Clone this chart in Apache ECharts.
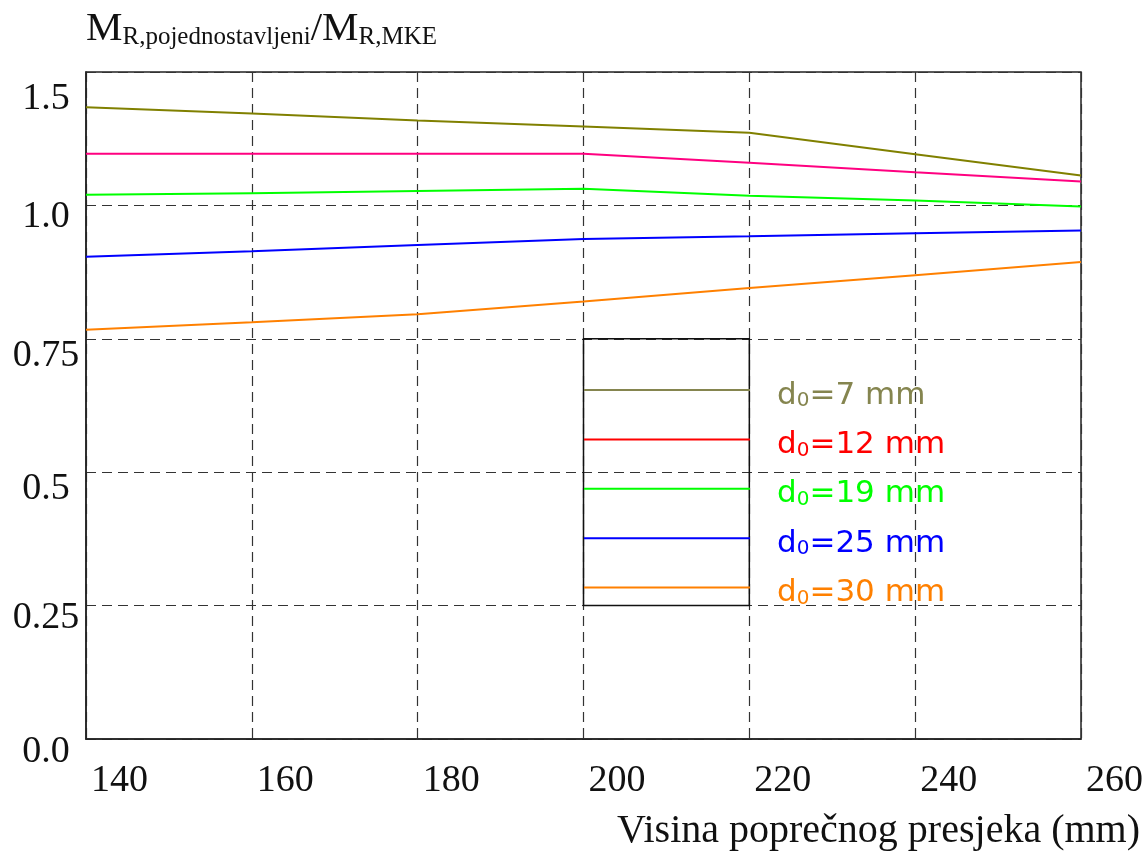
<!DOCTYPE html>
<html><head><meta charset="utf-8">
<script src="https://cdn.jsdelivr.net/npm/echarts@6/dist/echarts.min.js"></script>
<style>html,body{margin:0;padding:0;background:#fff}#c{width:1146px;height:851px}</style>
</head><body><div id="c"></div>
<script>
// ---- data ----
const xValues = [140, 160, 180, 200, 220, 240, 260];
const seriesNames = ['d0=7 mm', 'd0=12 mm', 'd0=19 mm', 'd0=25 mm', 'd0=30 mm'];
const d7  = [1.184, 1.172, 1.159, 1.148, 1.136, 1.096, 1.056];
const d12 = [1.097, 1.097, 1.097, 1.097, 1.080, 1.062, 1.045];
const d19 = [1.020, 1.023, 1.027, 1.031, 1.018, 1.009, 0.998];
const d25 = [0.904, 0.914, 0.926, 0.937, 0.942, 0.948, 0.953];
const d30 = [0.767, 0.781, 0.796, 0.820, 0.845, 0.869, 0.894];
const yTickLabels = ['0.0', '0.25', '0.5', '0.75', '1.0', '1.5'];
const xTickLabels = ['140', '160', '180', '200', '220', '240', '260'];
const legendBox = [[200, 0.25], [220, 0.75]];

// ---- styles ----
const lineColors = ['#808000', '#ff0080', '#00ff00', '#0000ff', '#ff8000'];
const legendColors = ['#85854f', '#ff0000', '#00ff00', '#0000ff', '#ff8000'];
const allData = [d7, d12, d19, d25, d30];
const serif = 'Liberation Serif';
const yOffsets = [26, 24, 34, 34, 24, 54];

const yRich = {};
yOffsets.forEach((p, i) => { yRich['o' + i] = { padding: [p, 0, 0, 0], fontSize: 38, fontFamily: serif, color: '#111' }; });

const legendRich = {};
legendColors.forEach((c, i) => {
  legendRich['a' + i] = { fontFamily: 'DejaVu Sans', fontSize: 31, color: c, verticalAlign: 'bottom', lineHeight: 36 };
  legendRich['b' + i] = { fontFamily: 'DejaVu Sans', fontSize: 20, color: c, verticalAlign: 'bottom', lineHeight: 25 };
});

const chart = echarts.init(document.getElementById('c'), null, { renderer: 'canvas' });
const series = allData.map((arr, i) => {
  const s = {
    name: seriesNames[i],
    type: 'line',
    data: xValues.map((x, j) => [x, arr[j]]),
    showSymbol: false,
    symbol: 'none',
    silent: true,
    lineStyle: { color: lineColors[i], width: 2 },
    itemStyle: { color: lineColors[i] },
    z: 3
  };
  if (i === 0) {
    s.markArea = {
      silent: true,
      label: { show: false },
      itemStyle: { color: 'rgba(0,0,0,0)', borderColor: '#111', borderWidth: 1.5 },
      data: [[{ coord: legendBox[0] }, { coord: legendBox[1] }]]
    };
  }
  return s;
});

chart.setOption({
  animation: false,
  backgroundColor: '#fff',
  grid: { left: 86, right: 65, top: 72, bottom: 112, show: true, borderColor: '#222', borderWidth: 1.5, backgroundColor: 'rgba(0,0,0,0)' },
  xAxis: {
    type: 'value', min: 140, max: 260, interval: 20,
    axisLine: { show: true, lineStyle: { color: '#222', width: 1.5 } },
    axisTick: { show: false },
    splitLine: { show: true, lineStyle: { color: '#333', width: 1.2, type: [10, 6] } },
    axisLabel: {
      fontFamily: serif, fontSize: 38, color: '#111', align: 'left', margin: 23, padding: [0, 0, 0, 5],
      formatter: v => xTickLabels[Math.round((v - 140) / 20)]
    },
    name: 'Visina poprečnog presjeka (mm)',
    nameLocation: 'end', nameGap: 59,
    nameTextStyle: { fontFamily: serif, fontSize: 40, color: '#111', align: 'right', verticalAlign: 'top', padding: [72, 0, 0, 0] }
  },
  yAxis: {
    type: 'value', min: 0, max: 1.25, interval: 0.25,
    axisLine: { show: true, lineStyle: { color: '#222', width: 1.5 } },
    axisTick: { show: false },
    splitLine: { show: true, lineStyle: { color: '#333', width: 1.2, type: [10, 6] } },
    axisLabel: {
      align: 'center', margin: 40, verticalAlign: 'middle',
      formatter: v => { const i = Math.round(v / 0.25); return '{o' + i + '|' + yTickLabels[i] + '}'; },
      rich: yRich
    },
    name: '{M|M}{s|R,pojednostavljeni}{M|/M}{s|R,MKE}',
    nameLocation: 'end', nameGap: 22,
    nameTextStyle: {
      align: 'left', verticalAlign: 'bottom', color: '#111',
      rich: {
        M: { fontFamily: serif, fontSize: 41, color: '#111', verticalAlign: 'bottom', lineHeight: 44 },
        s: { fontFamily: serif, fontSize: 25, color: '#111', verticalAlign: 'bottom', lineHeight: 34 }
      }
    }
  },
  legend: {
    orient: 'vertical', left: 584, top: 380, padding: 0, itemGap: 18.4,
    itemWidth: 166, itemHeight: 2, icon: 'rect', selectedMode: false,
    data: seriesNames.map((n, i) => ({ name: n, icon: 'rect', itemStyle: { color: legendColors[i], borderWidth: 0 } })),
    formatter: name => { const i = seriesNames.indexOf(name); return '{a' + i + '|d}{b' + i + '|0}{a' + i + '|' + name.slice(2) + '}'; },
    textStyle: { padding: [6, 0, 0, 22], rich: legendRich }
  },
  series: series
});
</script></body></html>
